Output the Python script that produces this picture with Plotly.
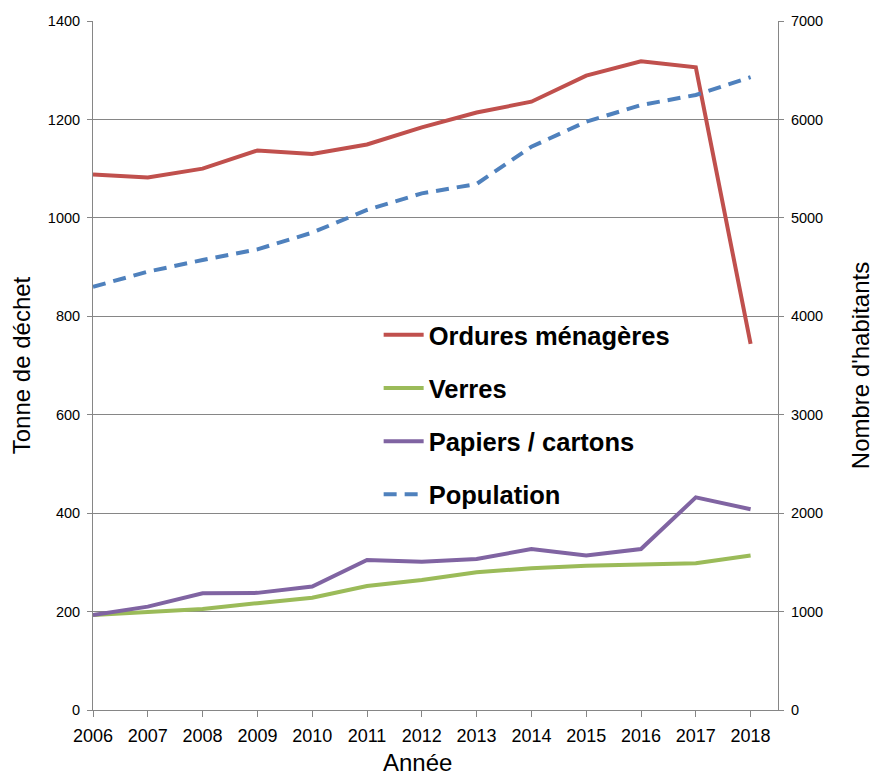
import plotly.graph_objects as go

years = list(range(2006, 2019))
ordures = [1088, 1082, 1100, 1137, 1130, 1149, 1184, 1214, 1236, 1289, 1318, 1306, 744]
verres = [193, 198, 205, 217, 228, 252, 264, 280, 288, 293, 295, 298, 314]
papiers = [193, 210, 237, 238, 251, 305, 301, 307, 327, 314, 327, 432, 408]
population = [4300, 4453, 4572, 4680, 4850, 5080, 5249, 5344, 5723, 5977, 6146, 6248, 6430]

fam = "Liberation Sans, Arial, sans-serif"
xtick_font = dict(family=fam, size=18, color="#000")
ytick_font = dict(family=fam, size=14.5, color="#000")
title_font = dict(family=fam, size=24, color="#000")

fig = go.Figure()
fig.add_trace(go.Scatter(x=years, y=ordures, name="Ordures ménagères", mode="lines",
                         line=dict(color="#C0504D", width=4), legendgroup="a"))
fig.add_trace(go.Scatter(x=years, y=verres, name="Verres", mode="lines",
                         line=dict(color="#9BBB59", width=4), legendgroup="b"))
fig.add_trace(go.Scatter(x=years, y=papiers, name="Papiers / cartons", mode="lines",
                         line=dict(color="#8064A2", width=4), legendgroup="c"))
fig.add_trace(go.Scatter(x=years, y=population, name="Population", mode="lines",
                         line=dict(color="#4F81BD", width=4, dash="13px,8px"), legendgroup="d",
                         yaxis="y2"))

fig.update_layout(
    width=876, height=769,
    margin=dict(l=85, r=106, t=13, b=67),
    paper_bgcolor="white", plot_bgcolor="white",
    showlegend=True,
    legend=dict(x=0.417, y=0.578, xanchor="left", yanchor="top",
                font=dict(family=fam, size=25.5, color="#000", weight="bold"),
                tracegroupgap=17, bgcolor="rgba(0,0,0,0)", itemwidth=40),
    xaxis=dict(range=[2006, 2018.5], tickmode="array", tickvals=years, ticktext=[str(y) for y in years],
               showgrid=False, showline=True, linecolor="#868686", linewidth=1,
               ticks="outside", ticklen=6, tickcolor="#868686", tickfont=xtick_font,
               ticklabelstandoff=3, zeroline=False, automargin=False),
    yaxis=dict(range=[0, 1400], dtick=200, showgrid=True, gridcolor="#868686", gridwidth=1,
               showline=True, linecolor="#868686", linewidth=1, ticks="outside", ticklen=5,
               tickcolor="#868686", tickfont=ytick_font, zeroline=False, ticklabelstandoff=4,
               automargin=False,
               title=dict(text="Tonne de déchet", font=title_font, standoff=10)),
    yaxis2=dict(range=[0, 7000], dtick=1000, overlaying="y", side="right", showgrid=False,
                showline=True, linecolor="#868686", linewidth=1, ticks="outside", ticklen=5,
                tickcolor="#868686", tickfont=ytick_font, zeroline=False, ticklabelstandoff=4,
                automargin=False,
                title=dict(text="Nombre d'habitants", font=title_font, standoff=30)),
    annotations=[dict(text="Année", xref="paper", yref="paper", x=0.474, y=-0.0755,
                      xanchor="center", yanchor="middle", showarrow=False, font=title_font)],
)

fig.write_html("out.html")
